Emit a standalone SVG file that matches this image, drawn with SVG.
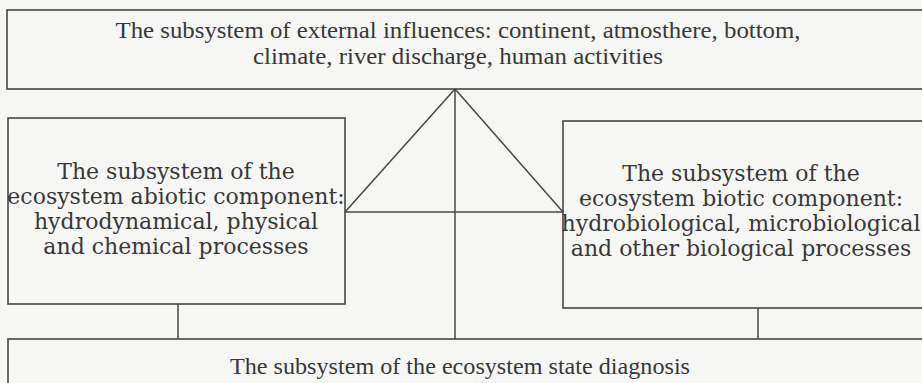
<svg xmlns="http://www.w3.org/2000/svg" width="922" height="383" viewBox="0 0 922 383">
<style>
.box{fill:none;stroke:#474747;stroke-width:1.6}
.conn{fill:none;stroke:#474747;stroke-width:1.5}
.t1{font-family:"Liberation Serif","Times New Roman",serif;font-size:24px;fill:#383838;text-anchor:middle}
.t2{font-family:"DejaVu Serif","Liberation Serif",serif;font-size:22px;fill:#383838;text-anchor:middle}
</style>
<rect x="0" y="0" width="922" height="383" fill="#f6f6f4"/>
<g id="connectors">
<line class="conn" x1="455" y1="89" x2="345" y2="212"/>
<line class="conn" x1="455" y1="89" x2="563" y2="212"/>
<line class="conn" x1="345" y1="212" x2="563" y2="212"/>
<line class="conn" x1="455" y1="89" x2="455" y2="339"/>
<line class="conn" x1="178" y1="304" x2="178" y2="339"/>
<line class="conn" x1="758" y1="308" x2="758" y2="339"/>
</g>
<g id="external">
<rect class="box" x="7" y="10" width="940" height="79"/>
<text class="t1" x="458" y="38" textLength="685" lengthAdjust="spacingAndGlyphs">The subsystem of external influences: continent, atmosthere, bottom,</text>
<text class="t1" x="458" y="64" textLength="410" lengthAdjust="spacingAndGlyphs">climate, river discharge, human activities</text>
</g>
<g id="abiotic">
<rect class="box" x="8" y="118" width="337" height="186"/>
<text class="t2" x="176" y="179">The subsystem of the</text>
<text class="t2" x="176" y="204">ecosystem abiotic component:</text>
<text class="t2" x="176" y="229">hydrodynamical, physical</text>
<text class="t2" x="176" y="254">and chemical processes</text>
</g>
<g id="biotic">
<rect class="box" x="563" y="121" width="380" height="187"/>
<text class="t2" x="741" y="181">The subsystem of the</text>
<text class="t2" x="741" y="206">ecosystem biotic component:</text>
<text class="t2" x="741" y="231">hydrobiological, microbiological</text>
<text class="t2" x="741" y="256">and other biological processes</text>
</g>
<g id="diagnosis">
<rect class="box" x="8" y="339" width="940" height="60"/>
<text class="t1" x="460" y="374" textLength="460" lengthAdjust="spacingAndGlyphs">The subsystem of the ecosystem state diagnosis</text>
</g>
</svg>
